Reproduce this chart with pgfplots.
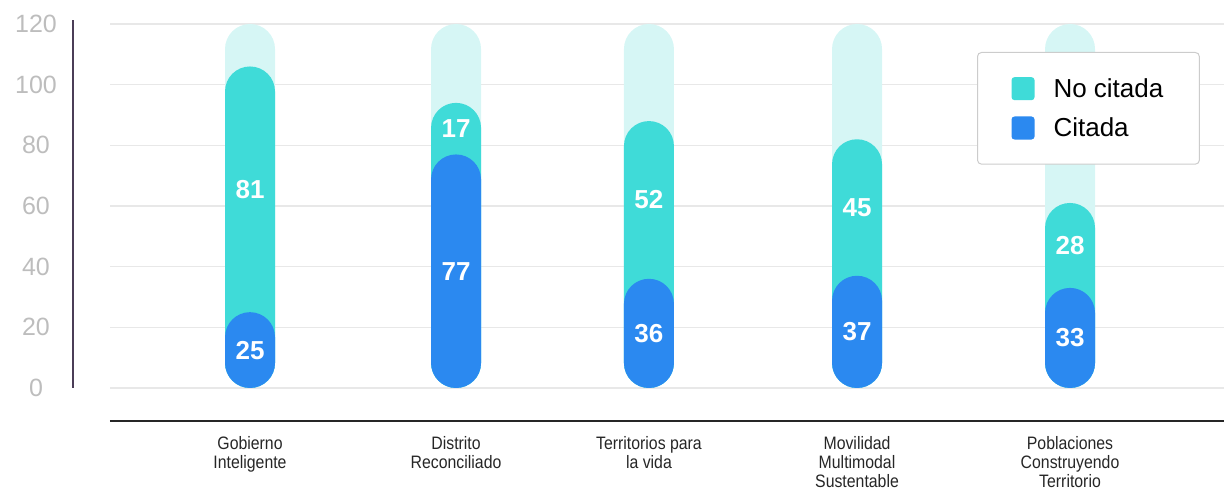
\documentclass[border=0pt]{standalone}
\usepackage{pgfplots}
\pgfplotsset{compat=1.18}
\usepackage{pgfplotstable}
\usepackage{fontspec}
\setmainfont{Liberation Sans}
\newfontfamily\condfont[FakeStretch=0.88]{Liberation Sans}
\definecolor{teal1}{HTML}{3FDBD8}
\definecolor{blue1}{HTML}{2B89F0}
\definecolor{bgc}{HTML}{D6F6F5}
\definecolor{gridc}{HTML}{E8E8E8}
\definecolor{tickc}{HTML}{BDBDBD}
\definecolor{axc}{HTML}{4B3D57}
\pgfplotstableread{
x c n bg
0 25 81 120
1.005 77 17 120
1.946 36 52 120
2.961 37 45 120
4 33 28 120
}\data
\begin{document}
\begin{tikzpicture}
\useasboundingbox (-110pt,-104pt) rectangle (1114pt,388pt);
\begin{axis}[
  at={(0,0)}, anchor=south west,
  scale only axis, width=1114pt, height=364pt,
  xmin=-0.683, xmax=4.751, ymin=0, ymax=120,
  axis line style={draw=none},
  major tick length=0pt,
  ymajorgrids, grid style={gridc, line width=1.2pt},
  ytick={0,20,...,120},
  yticklabel style={anchor=center, inner sep=0pt, xshift=-74pt, font=\fontsize{25}{25}\selectfont, text=tickc, /pgf/number format/assume math mode=true},
  xtick={0,1.005,1.946,2.961,4},
  xticklabels={Gobierno\\Inteligente, Distrito\\Reconciliado, Territorios para\\la vida, Movilidad\\Multimodal\\Sustentable, Poblaciones\\Construyendo\\Territorio},
  xticklabel style={anchor=north, inner sep=0pt, yshift=-48pt, align=center, font=\condfont\fontsize{18}{19}\selectfont, text=black!85},
  clip=false,
  legend style={at={(0.7783,0.9231)}, anchor=north west, draw=black!20, rounded corners=4pt, line width=1pt,
    font=\fontsize{26}{30}\selectfont, inner xsep=34pt, inner ysep=24pt, row sep=15pt,
    /tikz/every odd column/.append style={column sep=17pt}},
  legend cell align=left,
]
\addplot[ybar, bar width=50pt, bar shift=0pt, fill=bgc, draw=none, rounded corners=25pt, forget plot] table[x=x, y=bg]{\data};
\addplot[ybar, bar width=50pt, bar shift=0pt, fill=teal1, draw=none, rounded corners=25pt,
  legend image code/.code={\fill[teal1, rounded corners=3pt] (0pt,-11.5pt) rectangle (23pt,11.5pt);}]
  table[x=x, y expr=\thisrow{c}+\thisrow{n}]{\data};
\addlegendentry{No citada}
\addplot[ybar, bar width=50pt, bar shift=0pt, fill=blue1, draw=none, rounded corners=25pt,
  legend image code/.code={\fill[blue1, rounded corners=3pt] (0pt,-11.5pt) rectangle (23pt,11.5pt);}]
  table[x=x, y=c]{\data};
\addlegendentry{Citada}
\addplot[draw=none, mark=none, forget plot, nodes near coords, point meta=explicit,
  /pgf/number format/assume math mode=true,
  nodes near coords style={anchor=center, font=\bfseries\fontsize{26}{26}\selectfont, text=white, /pgf/number format/assume math mode=true}]
  table[x=x, y expr=\thisrow{c}+0.5*\thisrow{n}, meta=n]{\data};
\addplot[draw=none, mark=none, forget plot, nodes near coords, point meta=explicit,
  /pgf/number format/assume math mode=true,
  nodes near coords style={anchor=center, font=\bfseries\fontsize{26}{26}\selectfont, text=white, /pgf/number format/assume math mode=true}]
  table[x=x, y expr=0.5*\thisrow{c}, meta=c]{\data};
\end{axis}
\draw[axc, line width=1.5pt] (-37pt,0) -- (-37pt,368pt);
\draw[black!85, line width=1.5pt] (0,-33pt) -- (1114pt,-33pt);
\end{tikzpicture}
\end{document}
